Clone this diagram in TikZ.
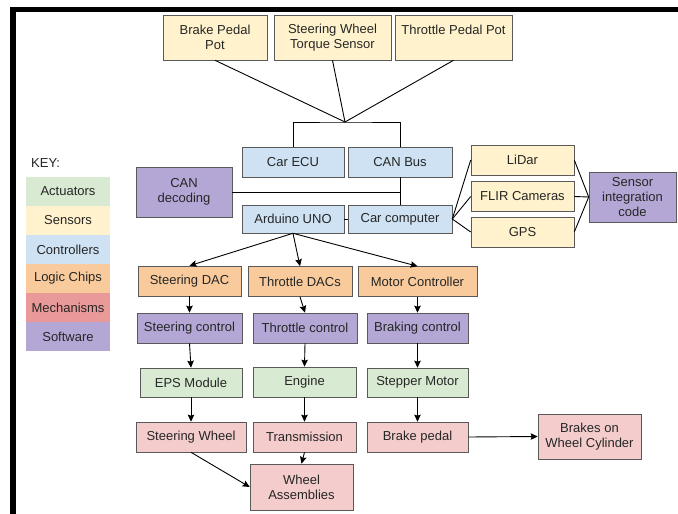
\documentclass[tikz,border=0pt]{standalone}
\usepackage{fontspec}
\setmainfont{Liberation Sans}
\usetikzlibrary{arrows.meta}
\definecolor{actfill}{HTML}{D9EAD3}
\definecolor{sensfill}{HTML}{FFF2CC}
\definecolor{ctrlfill}{HTML}{CFE2F3}
\definecolor{logicfill}{HTML}{F9CB9C}
\definecolor{mechkey}{HTML}{EA9999}
\definecolor{mechfill}{HTML}{F4CCCC}
\definecolor{softfill}{HTML}{B4A7D6}
\tikzstyle{box} = [rectangle, draw=black!65, line width=0.6pt, inner sep=1pt, align=center, text=black!85, font=\fontsize{13}{15}\selectfont, minimum height=30]
\tikzstyle{sensor} = [box, fill=sensfill]
\tikzstyle{ctrl} = [box, fill=ctrlfill]
\tikzstyle{logic} = [box, fill=logicfill]
\tikzstyle{soft} = [box, fill=softfill]
\tikzstyle{act} = [box, fill=actfill]
\tikzstyle{mech} = [box, fill=mechfill]
\tikzstyle{keyband} = [rectangle, inner sep=0pt, minimum width=84, minimum height=29, text=black!85, font=\fontsize{13}{15}\selectfont]
\tikzstyle{line} = [line width=0.9pt]
\tikzstyle{arrow} = [-{Stealth[length=7pt, width=6.5pt, inset=1pt]}, line width=0.9pt]

\begin{document}
\begin{tikzpicture}[x=1pt, y=-1pt, node distance=29pt]
    \useasboundingbox (0,0) rectangle (678,514);
    \fill [black] (10,7) rectangle (678,12);
    \fill [black] (10,7) rectangle (16,514);

    % key
    \node (key) [anchor=west, text=black!85, font=\fontsize{13}{15}\selectfont, inner sep=0pt] at (31,163) {KEY:};
    \node (kact) [keyband, fill=actfill] at (68,191.5) {Actuators};
    \node (ksens) [keyband, fill=sensfill, below of=kact] {Sensors};
    \node (kctrl) [keyband, fill=ctrlfill, below of=ksens] {Controllers};
    \node (klogic) [keyband, fill=logicfill, below of=kctrl] {Logic Chips};
    \node (kmech) [keyband, fill=mechkey, below of=klogic] {Mechanisms};
    \node (ksoft) [keyband, fill=softfill, below of=kmech] {Software};

    % sensors on top
    \node (bpp) [sensor, minimum width=104, minimum height=45] at (215,37.5) {Brake Pedal\\Pot};
    \node (swts) [sensor, minimum width=117, minimum height=45] at (332.5,37.5) {Steering Wheel\\Torque Sensor};
    \node (tpp) [sensor, minimum width=117, minimum height=45] at (453.5,37.5) {Throttle Pedal Pot\\\mbox{}};
    \coordinate (hub) at (345,122);

    % controllers
    \node (ecu) [ctrl, minimum width=102] at (293,162) {Car ECU};
    \node (canbus) [ctrl, minimum width=104] at (400,162) {CAN Bus};
    \node (candec) [soft, minimum width=96, minimum height=50] at (184,192) {CAN\\decoding};
    \node (arduino) [ctrl, minimum width=102, minimum height=28] at (293,219) {Arduino UNO};
    \node (carpc) [ctrl, minimum width=104, minimum height=28] at (400,219) {Car computer};

    % perception
    \node (lidar) [sensor, minimum width=103] at (522.5,160) {LiDar};
    \node (flir) [sensor, minimum width=103] at (522.5,196.5) {FLIR Cameras};
    \node (gps) [sensor, minimum width=103] at (522.5,232) {GPS};
    \node (sic) [soft, minimum width=87, minimum height=50] at (632.5,197) {Sensor\\integration\\code};

    % actuation chains
    \node (sdac) [logic, minimum width=103] at (189.5,281) {Steering DAC};
    \node (tdac) [logic, minimum width=104] at (300,281.5) {Throttle DACs};
    \node (mc) [logic, minimum width=119] at (417.5,281.5) {Motor Controller};
    \node (sctl) [soft, minimum width=105] at (189.5,328) {Steering control};
    \node (tctl) [soft, minimum width=104] at (305,328) {Throttle control};
    \node (bctl) [soft, minimum width=101] at (417.5,328) {Braking control};
    \node (eps) [act, minimum width=102, minimum height=29] at (191,382.5) {EPS Module};
    \node (engine) [act, minimum width=103] at (304.5,382) {Engine};
    \node (stepper) [act, minimum width=101, minimum height=29] at (417.5,382.5) {Stepper Motor};
    \node (swheel) [mech, minimum width=110] at (191,437) {Steering Wheel};
    \node (trans) [mech, minimum width=103] at (304.5,437) {Transmission};
    \node (bpedal) [mech, minimum width=101] at (417.5,437) {Brake pedal};
    \node (wheels) [mech, minimum width=103, minimum height=46] at (301.5,487) {Wheel\\Assemblies};
    \node (bwc) [mech, minimum width=103, minimum height=45] at (589.5,436.5) {Brakes on\\Wheel Cylinder};

    \draw [line] (bpp.south) -- (hub);
    \draw [line] (swts.south) -- (hub);
    \draw [line] (tpp.south) -- (hub);
    \draw [line] (ecu.north) |- (hub) -| (canbus.north);
    \draw [line] (canbus.south) -- (carpc.north);
    \draw [line] (candec.east) -- (candec.east -| carpc.north);
    \draw [line] (arduino.east) -- (carpc.west);
    \draw [line] (carpc.east) -- (lidar.west);
    \draw [line] (carpc.east) -- (flir.west);
    \draw [line] (carpc.east) -- (gps.west);
    \draw [line] (lidar.east) -- (sic.west);
    \draw [line] (flir.east) -- (sic.west);
    \draw [line] (gps.east) -- (sic.west);

    \draw [arrow] (arduino.south) -- (sdac.north);
    \draw [arrow] (arduino.south) -- (tdac.north);
    \draw [arrow] (arduino.south) -- (mc.north);
    \draw [arrow] (sdac.south) -- (sctl.north);
    \draw [arrow] (tdac.south) -- (tctl.north);
    \draw [arrow] (mc.south) -- (bctl.north);
    \draw [arrow] (sctl.south) -- (eps.north);
    \draw [arrow] (tctl.south) -- (engine.north);
    \draw [arrow] (bctl.south) -- (stepper.north);
    \draw [arrow] (eps.south) -- (swheel.north);
    \draw [arrow] (engine.south) -- (trans.north);
    \draw [arrow] (stepper.south) -- (bpedal.north);
    \draw [arrow] (trans.south) -- (wheels.north);
    \draw [arrow] (swheel.south) -- (wheels.west);
    \draw [arrow] (bpedal.east) -- (bwc.west);
\end{tikzpicture}
\end{document}
